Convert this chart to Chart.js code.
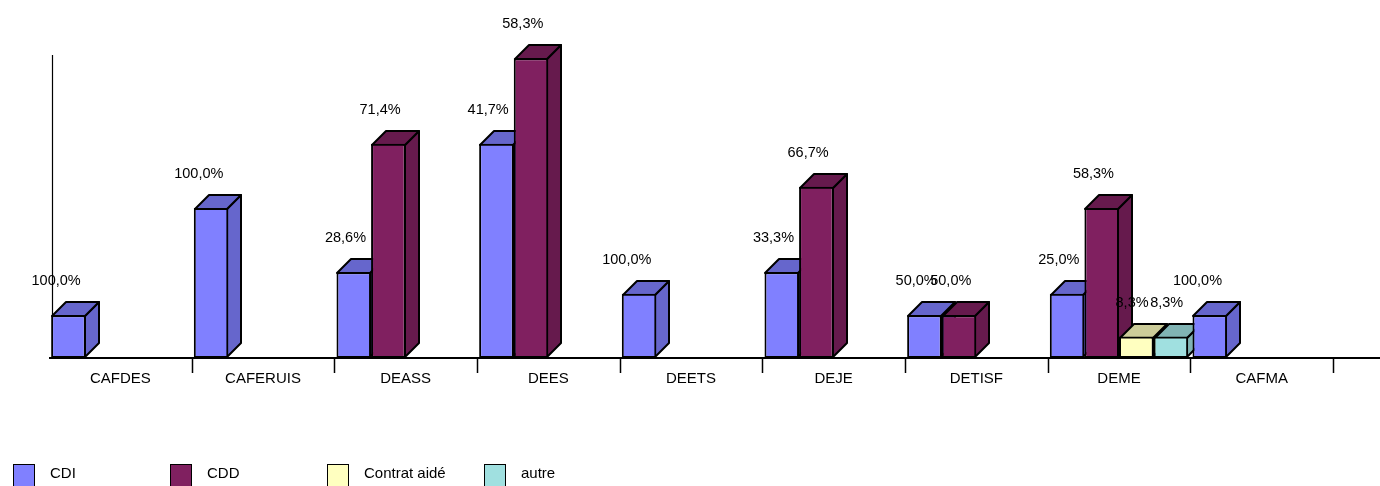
<!DOCTYPE html>
<html>
<head>
<meta charset="utf-8">
<script src="https://cdn.jsdelivr.net/npm/chart.js@4/dist/chart.umd.min.js"></script>
<style>
    body { margin: 0; background: #fff; overflow: hidden; }
    #wrap { position: relative; width: 1380px; height: 486px; }
    #chart { position: absolute; left: 0; top: 0; }
    .legend-item { position: absolute; top: 464px; height: 24px; font: 15px "Liberation Sans", Arial, sans-serif; color: #000; }
    .legend-box { position: absolute; left: 0; top: 0; width: 22px; height: 24px; border: 1.5px solid #000; box-sizing: border-box; }
    .legend-text { position: absolute; left: 37px; top: 0; line-height: 18px; white-space: nowrap; }
</style>
</head>
<body>
<div id="wrap">
    <canvas id="chart" width="1380" height="486"></canvas>
</div>
<script>
// Data (head counts per diploma, by contract type)
const categories = ['CAFDES', 'CAFERUIS', 'DEASS', 'DEES', 'DEETS', 'DEJE', 'DETISF', 'DEME', 'CAFMA'];
const seriesNames = ['CDI', 'CDD', 'Contrat aidé', 'autre'];
const cdi = [2, 7, 4, 10, 3, 4, 2, 3, 2];
const cdd = [null, null, 10, 14, null, 8, 2, 7, null];
const contratAide = [null, null, null, null, null, null, null, 1, null];
const autre = [null, null, null, null, null, null, null, 1, null];

// Colors (front face / top + side faces)
const FRONT = ['#8080FF', '#802060', '#FFFFC0', '#A0E0E0'];
const SHADE = ['#6666CC', '#661A4D', '#CCCC99', '#80B3B3'];
const DEPTH = 14;
const FONT = '"Liberation Sans", Arial, sans-serif';

const seriesValues = [cdi, cdd, contratAide, autre];

// Percent of the category total, french format
const percentLabel = (catIndex, value) => {
    let total = 0;
    seriesValues.forEach(s => { total += s[catIndex] || 0; });
    return (value / total * 100).toFixed(1).replace('.', ',') + '%';
};

// Axis lines and category separators
const axesPlugin = {
    id: 'axes3d',
    beforeDatasetsDraw(chart) {
        const { ctx, chartArea, scales } = chart;
        const x = scales.x;
        const base = Math.round(chartArea.bottom);
        const catW = (x.right - x.left) / categories.length;
        ctx.save();
        ctx.strokeStyle = '#000';
        // vertical axis
        ctx.lineWidth = 1.2;
        ctx.beginPath();
        ctx.moveTo(Math.round(x.left) + 3.5, Math.round(chartArea.top));
        ctx.lineTo(Math.round(x.left) + 3.5, base);
        ctx.stroke();
        // horizontal axis
        ctx.lineWidth = 2;
        ctx.beginPath();
        ctx.moveTo(x.left, base);
        ctx.lineTo(chart.width, base);
        ctx.stroke();
        // separators
        ctx.lineWidth = 1.5;
        ctx.beginPath();
        for (let i = 1; i <= categories.length; i++) {
            const px = Math.round(x.getPixelForValue(i) - catW / 2) + 0.5;
            ctx.moveTo(px, base);
            ctx.lineTo(px, base + 15);
        }
        ctx.stroke();
        ctx.restore();
    }
};

// Top and side faces of the 3D bars (front faces are drawn by Chart.js)
const faces3dPlugin = {
    id: 'faces3d',
    beforeDatasetsDraw(chart) {
        const { ctx } = chart;
        ctx.save();
        ctx.strokeStyle = '#000';
        ctx.lineWidth = 2;
        ctx.lineJoin = 'round';
        categories.forEach((c, i) => {
            chart.data.datasets.forEach((ds, d) => {
                if (ds.data[i] == null) return;
                const el = chart.getDatasetMeta(d).data[i];
                const p = el.getProps(['x', 'y', 'width', 'base'], true);
                const x0 = Math.round(p.x - p.width / 2) + 1;
                const x1 = Math.round(p.x + p.width / 2) - 1;
                const top = Math.round(p.y) + 1;
                const bot = Math.round(p.base) - 1;
                ctx.fillStyle = SHADE[d];
                // side
                ctx.beginPath();
                ctx.moveTo(x1, top);
                ctx.lineTo(x1 + DEPTH, top - DEPTH);
                ctx.lineTo(x1 + DEPTH, bot - DEPTH);
                ctx.lineTo(x1, bot);
                ctx.closePath();
                ctx.fill();
                ctx.stroke();
                // top
                ctx.beginPath();
                ctx.moveTo(x0, top);
                ctx.lineTo(x0 + DEPTH, top - DEPTH);
                ctx.lineTo(x1 + DEPTH, top - DEPTH);
                ctx.lineTo(x1, top);
                ctx.closePath();
                ctx.fill();
                ctx.stroke();
            });
        });
        ctx.restore();
    }
};

// Percentage labels above the bars
const labelsPlugin = {
    id: 'pctLabels',
    afterDatasetsDraw(chart) {
        const { ctx } = chart;
        ctx.save();
        ctx.font = '14.5px ' + FONT;
        ctx.fillStyle = '#000';
        ctx.textAlign = 'right';
        ctx.textBaseline = 'middle';
        chart.data.datasets.forEach((ds, d) => {
            const meta = chart.getDatasetMeta(d);
            ds.data.forEach((v, i) => {
                if (v == null) return;
                const p = meta.data[i].getProps(['x', 'y', 'width'], true);
                ctx.fillText(percentLabel(i, v), p.x + p.width / 2 - 5, p.y - 34);
            });
        });
        ctx.restore();
    }
};

const datasets = seriesNames.map((name, d) => ({
    label: name,
    data: seriesValues[d],
    backgroundColor: FRONT[d],
    borderColor: '#000',
    borderWidth: 2,
    borderSkipped: false,
    barPercentage: 1,
    categoryPercentage: 0.97
}));

new Chart(document.getElementById('chart'), {
    type: 'bar',
    data: { labels: categories, datasets },
    options: {
        responsive: false,
        animation: false,
        devicePixelRatio: 1,
        layout: { padding: { left: 49, right: 47, top: 55, bottom: 0 } },
        plugins: {
            legend: { display: false },
            tooltip: { enabled: false }
        },
        scales: {
            x: {
                grid: { display: false, drawTicks: false },
                border: { display: false },
                ticks: {
                    color: '#000',
                    padding: 12,
                    font: { family: FONT, size: 15 }
                },
                afterFit(scale) { scale.height = 128; }
            },
            y: {
                display: false,
                min: 0,
                max: 14.15
            }
        }
    },
    plugins: [axesPlugin, faces3dPlugin, labelsPlugin]
});

// Legend
const wrap = document.getElementById('wrap');
const legendLeft = [13, 170, 327, 484];
seriesNames.forEach((name, d) => {
    const item = document.createElement('div');
    item.className = 'legend-item';
    item.style.left = legendLeft[d] + 'px';
    const box = document.createElement('div');
    box.className = 'legend-box';
    box.style.background = FRONT[d];
    const text = document.createElement('div');
    text.className = 'legend-text';
    text.textContent = name;
    item.appendChild(box);
    item.appendChild(text);
    wrap.appendChild(item);
});
</script>
</body>
</html>
